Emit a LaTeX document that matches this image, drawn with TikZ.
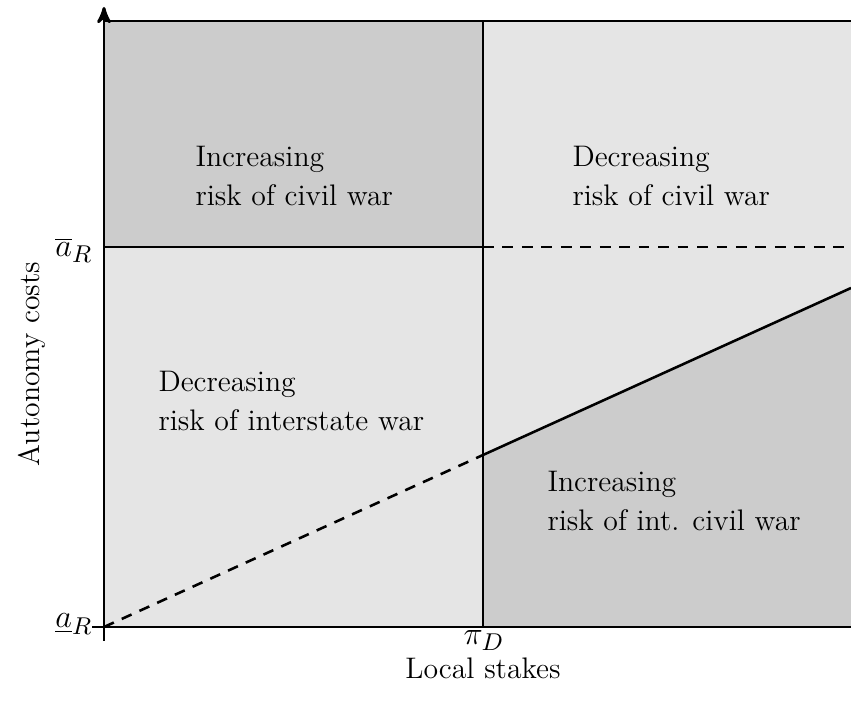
\documentclass[tikz,border=0pt]{standalone}
\usetikzlibrary{arrows,positioning}
\begin{document}
\begin{tikzpicture}[x=0.37pt,y=-0.37pt,>=stealth',
  every node/.style={font=\fontsize{11}{14.4}\selectfont},
  region/.style={align=left,anchor=west,inner sep=0pt},
  mlabel/.style={inner sep=0pt,font=\fontsize{12.5}{14}\selectfont},
  axis/.style={line width=1.1pt},
  bound/.style={line width=0.95pt},
  guess/.style={bound,dash pattern=on 4pt off 3.2pt}]
  \useasboundingbox (0,0) rectangle (851,703);
  \coordinate (O)  at (104,627);
  \coordinate (Ox) at (92,627);
  \coordinate (Oy) at (104,641);
  \coordinate (Yt) at (104,7);
  \coordinate (TL) at (104,21);
  \coordinate (TR) at (851,21);
  \coordinate (BR) at (851,627);
  \coordinate (PB) at (483,627);
  \coordinate (PT) at (483,21);
  \coordinate (AL) at (104,247);
  \coordinate (AM) at (483,247);
  \coordinate (AE) at (851,247);
  \coordinate (DM) at (483,455);
  \coordinate (DE) at (851,288);

  \fill[black!10] (O) rectangle (TR);
  \fill[black!20] (AL) rectangle (PT);
  \fill[black!20] (PB) -- (DM) -- (DE) -- (BR) -- cycle;

  \draw[bound] (TL) -- (TR);
  \draw[bound] (PB) -- (PT);
  \draw[bound] (AL) -- (AM);
  \draw[guess] (AM) -- (AE);
  \draw[guess] (O) -- (DM);
  \draw[bound] (DM) -- (DE);
  \draw[axis] (Ox) -- (BR);
  \draw[axis,->] (Oy) -- (Yt);

  \node[region] (civinc) at (195,176) {Increasing\\risk of civil war};
  \node[region] (civdec) at (572,176) {Decreasing\\risk of civil war};
  \node[region] (intdec) at (158,401) {Decreasing\\risk of interstate war};
  \node[region] (icwinc) at (547,501) {Increasing\\risk of int. civil war};

  \node[mlabel,anchor=base] (pid) at (484,645) {$\pi_D$};
  \node[anchor=base,inner sep=0pt] (xlab) at (483,679) {Local stakes};
  \node[anchor=base,inner sep=0pt,rotate=90] (ylab) at (39,364) {Autonomy costs};
  \node[mlabel,anchor=base east] (alow) at (93,628) {$\underline{a}_R$};
  \node[mlabel,anchor=base east] (ahigh) at (93,257) {$\overline{a}_R$};
\end{tikzpicture}
\end{document}
